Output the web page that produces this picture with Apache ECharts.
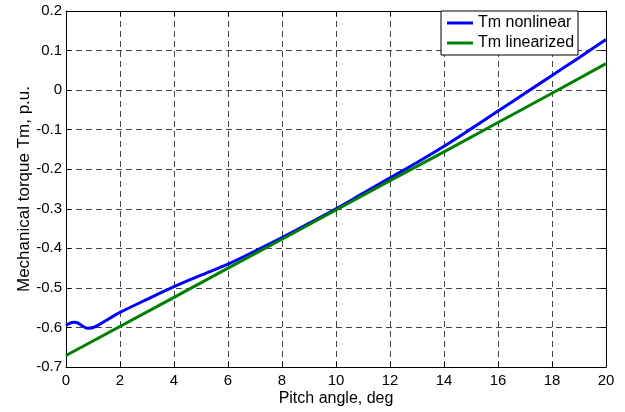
<!DOCTYPE html>
<html>
<head>
<meta charset="utf-8">
<script src="https://cdn.jsdelivr.net/npm/echarts@6/dist/echarts.min.js"></script>
<style>
html,body{margin:0;padding:0;background:#fff;}
#chart{width:625px;height:412px;}
</style>
</head>
<body>
<div id="chart"></div>
<script>
// Data
const pitchNonlinear = [0, 0.15, 0.3, 0.45, 0.6, 0.8, 1.0, 1.2, 1.5, 2, 3, 4, 5, 6, 7, 8, 9, 10, 11, 12, 13, 14, 15, 16, 17, 18, 19, 20];
const tmNonlinear = [-0.595, -0.589, -0.587, -0.589, -0.596, -0.602, -0.600, -0.594, -0.582, -0.562, -0.529, -0.497, -0.468, -0.440, -0.407, -0.373, -0.337, -0.300, -0.261, -0.222, -0.183, -0.142, -0.098, -0.053, -0.008, 0.037, 0.082, 0.128];
const pitchLinear = [0, 4, 6, 8, 10, 12, 14, 16, 18, 20];
const tmLinear = [-0.671, -0.524, -0.450, -0.377, -0.303, -0.229, -0.156, -0.082, -0.008, 0.067];
const seriesNames = ['Tm nonlinear', 'Tm linearized'];
const xName = 'Pitch angle, deg';
const yName = 'Mechanical torque Tm, p.u.';

const FONT = 'Liberation Sans, Arial, Helvetica, sans-serif';
const pairs = (xs, ys) => xs.map((x, i) => [x, ys[i]]);
const gridLine = {show: true, lineStyle: {color: '#444', type: [6, 4], width: 1}};
const fmtY = v => { const r = Math.round(v * 10) / 10; return r === 0 ? '0' : String(r); };

const chart = echarts.init(document.getElementById('chart'), null, {renderer: 'canvas'});
chart.setOption({
  animation: false,
  backgroundColor: '#fff',
  grid: {left: 66, right: 19, top: 11, bottom: 44, show: false},
  legend: {
    orient: 'vertical',
    left: 441, top: 11,
    backgroundColor: '#fff',
    borderColor: '#000', borderWidth: 1,
    padding: [4, 4, 4, 6],
    itemGap: 4,
    itemWidth: 26, itemHeight: 3,
    icon: 'rect',
    textStyle: {fontFamily: FONT, fontSize: 16, color: '#000', lineHeight: 16},
    data: seriesNames
  },
  xAxis: [{
    type: 'value', min: 0, max: 20, interval: 2,
    name: xName, nameLocation: 'middle', nameGap: 24, nameMoveOverlap: false,
    nameTextStyle: {fontFamily: FONT, fontSize: 16, color: '#000'},
    axisLine: {show: true, onZero: false, lineStyle: {color: '#000', width: 1}},
    axisTick: {show: true, inside: true, length: 5, lineStyle: {color: '#000'}},
    axisLabel: {fontFamily: FONT, fontSize: 15, color: '#000', margin: 6},
    splitLine: gridLine
  }, {
    type: 'value', min: 0, max: 20, interval: 2, position: 'top',
    axisLine: {show: true, onZero: false, lineStyle: {color: '#000', width: 1}},
    axisTick: {show: true, inside: true, length: 5, lineStyle: {color: '#000'}},
    axisLabel: {show: false}, splitLine: {show: false}
  }],
  yAxis: [{
    type: 'value', min: -0.7, max: 0.2, interval: 0.1,
    name: yName, nameLocation: 'middle', nameGap: 33, nameRotate: 90, nameMoveOverlap: false,
    nameTextStyle: {fontFamily: FONT, fontSize: 17, color: '#000'},
    axisLine: {show: true, onZero: false, lineStyle: {color: '#000', width: 1}},
    axisTick: {show: true, inside: true, length: 5, lineStyle: {color: '#000'}},
    axisLabel: {fontFamily: FONT, fontSize: 15, color: '#000', margin: 4, formatter: fmtY},
    splitLine: gridLine
  }, {
    type: 'value', min: -0.7, max: 0.2, interval: 0.1, position: 'right',
    axisLine: {show: true, onZero: false, lineStyle: {color: '#000', width: 1}},
    axisTick: {show: true, inside: true, length: 5, lineStyle: {color: '#000'}},
    axisLabel: {show: false}, splitLine: {show: false}
  }],
  series: [{
    name: seriesNames[0], type: 'line', showSymbol: false, smooth: 0.3,
    color: '#0000ff', lineStyle: {width: 3, color: '#0000ff'},
    data: pairs(pitchNonlinear, tmNonlinear), z: 3
  }, {
    name: seriesNames[1], type: 'line', showSymbol: false,
    color: '#008000', lineStyle: {width: 3, color: '#008000'},
    data: pairs(pitchLinear, tmLinear), z: 4
  }]
});
</script>
</body>
</html>
